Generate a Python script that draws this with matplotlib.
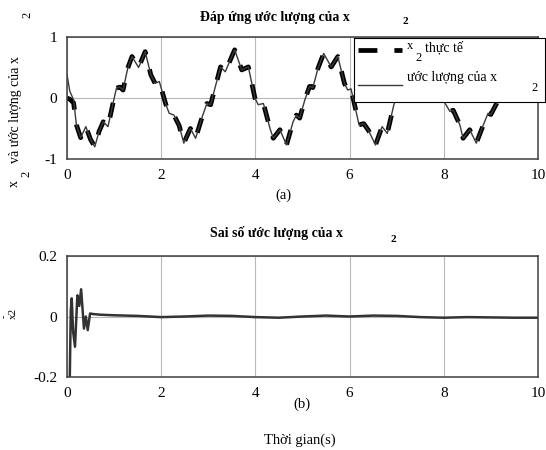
import matplotlib
matplotlib.use('Agg')
import matplotlib.pyplot as plt
import numpy as np

plt.rcParams['font.family'] = ['Liberation Serif', 'DejaVu Serif']

# Tín hiệu x2 và ước lượng
t_x2 = [0.00, 0.06, 0.14, 0.20, 0.29, 0.40, 0.50, 0.59, 0.68, 0.77, 0.87, 0.97,
        1.05, 1.12, 1.19, 1.29, 1.38, 1.52, 1.66, 1.78, 1.87, 1.96, 2.10, 2.17,
        2.27, 2.38, 2.48, 2.62, 2.73, 2.87, 2.97, 3.05, 3.12, 3.26, 3.36, 3.56,
        3.71, 3.85, 3.99, 4.06, 4.17, 4.31, 4.38, 4.52, 4.66, 4.80, 4.87, 4.94,
        5.05, 5.15, 5.22, 5.33, 5.45, 5.61, 5.75, 5.89, 5.96, 6.03, 6.10, 6.20,
        6.30, 6.40, 6.55, 6.69, 6.80, 6.94, 7.05, 7.12, 7.22, 7.35, 7.50, 7.65,
        7.80, 7.90, 7.97, 8.03, 8.13, 8.20, 8.34, 8.41, 8.55, 8.69, 8.84, 8.94,
        9.00, 9.12, 9.20, 9.30, 9.45, 9.60, 9.75, 9.90, 10.0]
x2_est = [0.38, 0.11, -0.03, -0.44, -0.65, -0.47, -0.68, -0.80, -0.55, -0.39, -0.47, -0.11,
          0.16, 0.18, 0.13, 0.49, 0.68, 0.50, 0.76, 0.38, 0.24, 0.27, -0.11, -0.25,
          -0.28, -0.45, -0.74, -0.50, -0.66, -0.31, -0.09, -0.11, 0.10, 0.51, 0.43, 0.79,
          0.46, 0.51, 0.00, -0.11, -0.09, -0.50, -0.66, -0.52, -0.77, -0.39, -0.28, -0.33,
          -0.03, 0.19, 0.17, 0.49, 0.73, 0.51, 0.68, 0.24, 0.13, 0.15, -0.09, -0.44,
          -0.42, -0.53, -0.77, -0.47, -0.58, -0.11, 0.15, 0.17, 0.50, 0.70, 0.50, 0.76,
          0.38, 0.20, 0.22, -0.09, -0.22, -0.20, -0.44, -0.66, -0.52, -0.74, -0.44, -0.25,
          -0.27, -0.09, 0.15, 0.50, 0.70, 0.50, 0.76, 0.35, 0.22]
x2_real_start = [0.00, -0.02, -0.08]  # x2 thực tế khác ước lượng ở đầu

# Sai số ước lượng
t_err = [0.00, 0.05, 0.08, 0.10, 0.13, 0.17, 0.22, 0.26, 0.30, 0.36, 0.40, 0.44,
         0.49, 0.56, 0.70, 1.0, 1.5, 2.0, 2.5, 3.0, 3.5, 4.0, 4.5, 5.0, 5.5, 6.0,
         6.5, 7.0, 7.5, 8.0, 8.5, 9.0, 9.5, 10.0]
err = [-0.38, -0.30, 0.02, 0.06, -0.05, -0.10, 0.07, 0.035, 0.09, -0.04, 0.0, -0.045,
       0.01, 0.008, 0.006, 0.004, 0.002, -0.002, 0.0, 0.003, 0.002, -0.002, -0.004, 0.0,
       0.003, 0.0, 0.003, 0.002, -0.002, -0.004, -0.002, -0.003, -0.004, -0.004]

x_ticks = [0, 2, 4, 6, 8, 10]

W, H = 546, 450
fig = plt.figure(figsize=(W / 100, H / 100), dpi=100)


def fx(px):
    return px / W


def fy(py):
    return 1 - py / H


def style_axes(ax, yticks, ylabels):
    ax.set_xlim(0, 10)
    ax.set_xticks(x_ticks)
    ax.set_yticks(yticks)
    ax.set_yticklabels(ylabels)
    ax.tick_params(length=0, labelsize=11, pad=7)
    ax.grid(True, color='#b8b8b8', lw=0.8)
    ax.set_axisbelow(True)
    for s in ax.spines.values():
        s.set_color('#404040')
        s.set_linewidth(1.1)


# (a) đáp ứng
ax1 = fig.add_axes([fx(67), fy(159), fx(538 - 67), (159 - 37) / H])
x2_real = np.array(x2_est)
x2_real[:len(x2_real_start)] = x2_real_start
ax1.plot(t_x2, x2_real, color='black', lw=3.4, ls=(0, (3.2, 3.2)), solid_capstyle='butt')
ax1.plot(t_x2, x2_est, color='#3a3a3a', lw=1.0)
ax1.set_ylim(-1, 1)
style_axes(ax1, [-1, 0, 1], ['-1', '0', '1'])

# (b) sai số
ax2 = fig.add_axes([fx(67), fy(377), fx(538 - 67), (377 - 256) / H])
ax2.plot(t_err, err, color='#333333', lw=1.8)
ax2.set_ylim(-0.2, 0.2)
style_axes(ax2, [-0.2, 0, 0.2], ['-0.2', '0', '0.2'])

# legend vẽ tay
lg = fig.add_axes([fx(354), fy(102), fx(545 - 354), (102 - 38) / H])
lg.set_xlim(0, 191)
lg.set_ylim(64, 0)
lg.set_xticks([])
lg.set_yticks([])
lg.set_facecolor('white')
for s in lg.spines.values():
    s.set_color('black')
    s.set_linewidth(0.8)
lg.plot([4, 48], [12, 12], color='black', lw=3.4, ls=(0, (4.0, 3.6)), solid_capstyle='butt')
lg.plot([4, 48], [47, 47], color='#3a3a3a', lw=1.0)
lg.text(53, 8, 'x', fontsize=9, va='center')
lg.text(61, 20, '2', fontsize=9, va='center')
lg.text(71, 10, 'thực tế', fontsize=10, va='center')
lg.text(53, 39, 'ước lượng của x', fontsize=10, va='center')
lg.text(177, 50, '2', fontsize=9, va='center')

# tiêu đề
fig.text(fx(275), fy(17), 'Đáp ứng ước lượng của x', fontsize=10, fontweight='bold',
         ha='center', va='center')
fig.text(fx(405), fy(22), '2', fontsize=8, fontweight='bold', ha='center', va='center')
fig.text(fx(277), fy(233), 'Sai số ước lượng của x', fontsize=10, fontweight='bold',
         ha='center', va='center')
fig.text(fx(393), fy(240), '2', fontsize=8, fontweight='bold', ha='center', va='center')

# nhãn trục y (a)
fig.text(fx(14), fy(183), 'x', fontsize=10, rotation=90, ha='center', va='center')
fig.text(fx(26), fy(174), '2', fontsize=9, rotation=90, ha='center', va='center')
fig.text(fx(16), fy(110), 'và ước lượng của x', fontsize=10, rotation=90,
         ha='center', va='center')
fig.text(fx(27), fy(15), '2', fontsize=9, rotation=90, ha='center', va='center')

# nhãn trục y (b)
fig.text(fx(13), fy(313), 'x2', fontsize=8, rotation=90, ha='center', va='center')
fig.text(fx(4), fy(316), '-', fontsize=7, rotation=90, ha='center', va='center')

fig.text(fx(283), fy(195), '(a)', fontsize=10.5, ha='center', va='center')
fig.text(fx(302), fy(404), '(b)', fontsize=10.5, ha='center', va='center')
fig.text(fx(300), fy(440), 'Thời gian(s)', fontsize=10.5, ha='center', va='center')

fig.savefig('out.png', dpi=100)
